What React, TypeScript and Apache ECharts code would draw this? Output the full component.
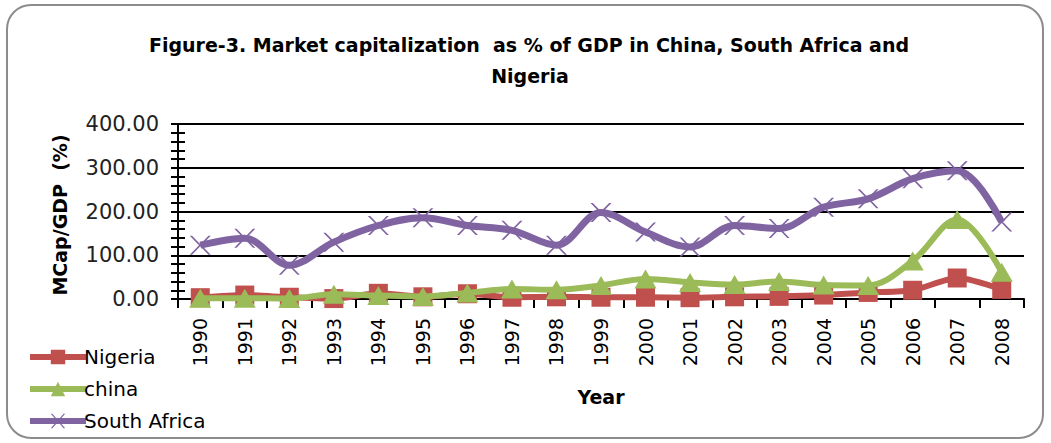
import React, { useEffect, useRef } from "react";
import * as echarts from "echarts";

const years = ["1990","1991","1992","1993","1994","1995","1996","1997","1998","1999","2000","2001","2002","2003","2004","2005","2006","2007","2008"];
const nigeria = [3, 9, 4, 1, 13, 5, 12, 4, 5, 4, 4, 3, 5, 6, 9, 15, 20, 48, 22];
const china = [2, 2, 1, 11, 8, 6, 14, 23, 21, 31, 46, 38, 33, 40, 32, 31, 87, 182, 61];
const southAfrica = [123, 139, 77, 130, 168, 186, 168, 157, 123, 198, 153, 119, 168, 161, 210, 229, 275, 293, 176];
const yTicks = { min: 0, max: 400, interval: 100 };

const titleLine1 = "Figure-3. Market capitalization  as % of GDP in China, South Africa and";
const titleLine2 = "Nigeria";
const yName = "MCap/GDP  (%)";
const xName = "Year";

const xSymbol = "path://M0,0 L2.2,0 L10,8 L17.8,0 L20,0 L11.2,9 L20,18 L17.8,18 L10,10 L2.2,18 L0,18 L8.8,9 Z";

export default function App() {
  const ref = useRef<HTMLDivElement>(null);
  useEffect(() => {
    if (!ref.current) return;
    const chart = echarts.init(ref.current, null, { renderer: "svg" });
    const font = '"DejaVu Sans", sans-serif';
    const yAxisCommon = {
      type: "value",
      min: yTicks.min,
      max: yTicks.max,
      interval: yTicks.interval,
      position: "left",
    };
    chart.setOption({
      animation: false,
      backgroundColor: "#ffffff",
      grid: { left: 178, right: 27, top: 124, bottom: 144, containLabel: false },
      legend: {
        orient: "vertical",
        left: 22,
        top: 340,
        itemWidth: 56,
        itemHeight: 18,
        itemGap: 8,
        data: ["Nigeria", "china", "South Africa"],
        lineStyle: { width: 6 },
        textStyle: { fontFamily: font, fontSize: 20, color: "#000", lineHeight: 24, padding: [0, 0, 0, -7] },
      },
      xAxis: {
        type: "category",
        data: years,
        boundaryGap: true,
        axisLine: { show: true, lineStyle: { color: "#000", width: 2 } },
        axisTick: { show: true, interval: 0, length: 9, lineStyle: { color: "#000", width: 2 } },
        axisLabel: { interval: 0, rotate: 90, margin: 19, fontFamily: font, fontSize: 19, color: "#000" },
        splitLine: { show: false },
      },
      yAxis: [
        {
          ...yAxisCommon,
          axisLine: { show: true, lineStyle: { color: "#000", width: 2 } },
          axisTick: { show: true, length: 7, lineStyle: { color: "#000", width: 2 } },
          minorTick: { show: true, splitNumber: 5, length: 7, lineStyle: { color: "#000", width: 2 } },
          axisLabel: {
            margin: 19,
            fontFamily: font,
            fontSize: 21,
            color: "#222",
            formatter: (v: number) => v.toFixed(2),
          },
          splitLine: { show: true, lineStyle: { color: "#000", width: 2 } },
        },
        {
          ...yAxisCommon,
          axisLine: { show: false },
          axisTick: { show: true, inside: true, length: 7, lineStyle: { color: "#000", width: 2 } },
          minorTick: { show: true, splitNumber: 5, length: 7, lineStyle: { color: "#000", width: 2 } },
          axisLabel: { show: false },
          splitLine: { show: false },
        },
      ],
      series: [
        {
          name: "Nigeria",
          type: "line",
          data: nigeria,
          smooth: 0.25,
          symbol: "rect",
          symbolSize: 19,
          lineStyle: { color: "#C0504D", width: 6 },
          itemStyle: { color: "#C0504D" },
          z: 2,
        },
        {
          name: "china",
          type: "line",
          data: china,
          smooth: 0.35,
          symbol: "triangle",
          symbolSize: [22, 19],
          lineStyle: { color: "#9BBB59", width: 6 },
          itemStyle: { color: "#9BBB59" },
          z: 3,
        },
        {
          name: "South Africa",
          type: "line",
          data: southAfrica,
          smooth: 0.35,
          symbol: xSymbol,
          symbolSize: [21, 19],
          lineStyle: { color: "#8064A2", width: 7 },
          itemStyle: { color: "#8064A2" },
          z: 4,
        },
      ],
      graphic: [
        {
          type: "rect",
          z: -10,
          shape: { x: 7, y: 5, width: 1036, height: 433, r: 24 },
          style: { fill: "#ffffff", stroke: "#8c8c8c", lineWidth: 2 },
          silent: true,
        },
        {
          type: "text",
          x: 529,
          y: 45,
          style: { text: titleLine1, fontFamily: font, fontWeight: "bold", fontSize: 19, fill: "#000", align: "center", verticalAlign: "middle" },
        },
        {
          type: "text",
          x: 530,
          y: 76,
          style: { text: titleLine2, fontFamily: font, fontWeight: "bold", fontSize: 19, fill: "#000", align: "center", verticalAlign: "middle" },
        },
        {
          type: "text",
          x: 60,
          y: 215,
          rotation: Math.PI / 2,
          style: { text: yName, fontFamily: font, fontWeight: "bold", fontSize: 19, fill: "#000", align: "center", verticalAlign: "middle" },
        },
        {
          type: "text",
          x: 601,
          y: 397,
          style: { text: xName, fontFamily: font, fontWeight: "bold", fontSize: 19, fill: "#000", align: "center", verticalAlign: "middle" },
        },
      ],
    });
    return () => chart.dispose();
  }, []);
  return (
    <div
      ref={ref}
      style={{ position: "absolute", left: 0, top: 0, width: 1051, height: 443 }}
    />
  );
}
